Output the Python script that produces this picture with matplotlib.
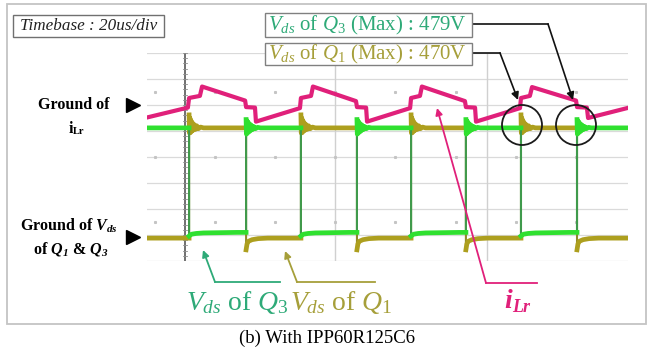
import numpy as np
import matplotlib
matplotlib.use('Agg')
import matplotlib.pyplot as plt
from matplotlib.patches import Rectangle, Circle

plt.rcParams['font.family'] = ['Liberation Serif', 'DejaVu Serif']
plt.rcParams['mathtext.fontset'] = 'custom'
plt.rcParams['mathtext.rm'] = 'Liberation Serif'
plt.rcParams['mathtext.it'] = 'Liberation Serif:italic'
plt.rcParams['mathtext.bf'] = 'Liberation Serif:bold'
try:
    plt.rcParams['mathtext.bfit'] = 'Liberation Serif:italic:bold'
except KeyError:
    pass

# ---------------- data (time in us, amplitude in scope divisions) ----------------
q1_turn_on = [17.5, 64.0, 109.8, 155.5]   # Vds of Q1 rises, Vds of Q3 falls
q3_turn_on = [41.2, 87.3, 132.6, 178.8]   # Vds of Q3 rises, Vds of Q1 falls
vds_high = 5.12
vds_q1_low = 0.88
vds_q3_low = 1.0

ring_dt = [0.0, 0.15, 0.35, 0.55, 0.8, 1.05, 1.35, 1.7, 2.1, 2.6, 3.2, 3.9, 4.8, 6.0]
ring_q1_dy = [0.5, -0.2, 0.38, -0.18, 0.28, -0.13, 0.2, -0.09, 0.13, -0.06, 0.08, -0.03, 0.03, 0.0]
ring_q3_dy = [0.32, -0.24, 0.28, -0.2, 0.22, -0.16, 0.16, -0.12, 0.11, -0.07, 0.05, -0.03, 0.02, 0.0]
q1_fall_dt = [0.0, 0.4, 1.0, 2.5, 5.0, 9.0]
q1_fall_dy = [-0.45, -0.22, -0.12, -0.06, -0.02, 0.0]
q3_fall_dt = [0.0, 1.0, 3.0, 6.0, 20.0]
q3_fall_dy = [-0.04, 0.03, 0.06, 0.08, 0.10]

ilr_t = [0.0, 17.0, 17.5, 22.0, 22.9, 40.8, 41.2, 44.9, 45.3, 63.6,
         64.0, 68.2, 69.0, 86.9, 87.3, 91.1, 91.5, 109.4,
         109.8, 113.5, 114.3, 132.2, 132.6, 136.4, 136.8, 155.1,
         155.5, 159.2, 160.1, 178.4, 178.8, 182.9, 183.4, 199.6]
ilr_y = [5.52, 5.90, 6.27, 6.35, 6.71, 6.17, 5.92, 5.90, 5.36, 5.88,
         6.27, 6.35, 6.71, 6.15, 5.92, 5.90, 5.36, 5.88,
         6.27, 6.35, 6.71, 6.15, 5.92, 5.90, 5.36, 5.88,
         6.27, 6.35, 6.69, 6.17, 5.92, 5.90, 5.50, 5.88]


def build(rise_times, fall_times, low, high, rise_dt, rise_dy, fall_dt, fall_dy, start_high, t_end=200.0):
    events = sorted([(t, 'r') for t in rise_times] + [(t, 'f') for t in fall_times])
    ts, ys = [0.0], [high if start_high else low]
    for t, kind in events:
        ts.append(t); ys.append(ys[-1])
        if kind == 'r':
            level, dts, dys = high, rise_dt, rise_dy
        else:
            level, dts, dys = low, fall_dt, fall_dy
        for a, b in zip(dts, dys):
            ts.append(t + a); ys.append(level + b)
    ts.append(t_end); ys.append(ys[-1])
    return np.array(ts), np.array(ys)


def split_steep(t, y, thr=1.0):
    tt, yy = [t[0]], [y[0]]
    for i in range(1, len(t)):
        if abs(y[i] - y[i - 1]) > thr:
            tt.append(np.nan); yy.append(np.nan)
        tt.append(t[i]); yy.append(y[i])
    return np.array(tt), np.array(yy)


q1_t, q1_y = build(q1_turn_on, q3_turn_on, vds_q1_low, vds_high, ring_dt, ring_q1_dy,
                   q1_fall_dt, q1_fall_dy, start_high=False)
q3_t, q3_y = build(q3_turn_on, q1_turn_on, vds_q3_low, vds_high, ring_dt, ring_q3_dy,
                   q3_fall_dt, q3_fall_dy, start_high=True)

OLIVE = '#ad9f1e'
OLIVE_D = '#8f8a2a'
GREEN = '#2fe02f'
GREEN_D = '#3f9a4c'
PINK = '#e0207a'
TXT_GREEN = '#2eaa78'
TXT_OLIVE = '#a69f3a'

W, H = 655, 352
fig = plt.figure(figsize=(W / 100, H / 100), dpi=100)

# scope screen axes (pixel box 147..628 x 53..261)
sc = fig.add_axes([147 / W, 1 - 261 / H, 481 / W, 208 / H])
sc.set_xlim(0, 200)
sc.set_ylim(0, 8)
sc.axis('off')
for yv in range(9):
    sc.plot([0, 200], [yv, yv], color='#dadada', lw=0.9, zorder=0)
for xv in [78.2, 141.4]:
    sc.plot([xv, xv], [-0.3, 8], color='#d0d0d0', lw=1.0, zorder=0)
sc.plot([15.8, 15.8], [-0.3, 8], color='#707070', lw=1.4, zorder=0)
for yv in np.arange(0, 8.01, 0.2):
    sc.plot([15.0, 16.6], [yv, yv], color='#909090', lw=0.6, zorder=0)
dot_t = np.arange(3.3, 200, 25.0)
for yv in [1.5, 4.0, 6.5]:
    sc.plot(dot_t, np.full(len(dot_t), yv), ls='none', marker='s', ms=1.2,
            color='#c4c4c4', zorder=0)

# traces
sc.plot(q1_t, q1_y, color=OLIVE_D, lw=1.5, zorder=2, solid_joinstyle='miter')
t2, y2 = split_steep(q1_t, q1_y)
sc.plot(t2, y2, color=OLIVE, lw=3.4, zorder=3)
sc.plot(q3_t, q3_y, color=GREEN_D, lw=1.5, zorder=4)
t3, y3 = split_steep(q3_t, q3_y)
sc.plot(t3, y3, color=GREEN, lw=3.4, zorder=5)
sc.plot(ilr_t, ilr_y, color=PINK, lw=3.0, zorder=6)

# overlay axes in pixel coordinates
ov = fig.add_axes([0, 0, 1, 1], facecolor='none')
ov.set_xlim(0, W)
ov.set_ylim(H, 0)
ov.axis('off')

ov.add_patch(Rectangle((7, 4), 639, 320, fill=False, ec='#c4c4c4', lw=1.3))

# timebase box
ov.add_patch(Rectangle((13, 15), 151, 22, fill=False, ec='#707070', lw=1.0))
ov.text(88.5, 26.5, 'Timebase : 20us/div', ha='center', va='center', style='italic',
        fontsize=12.3, color='#222222')

# max boxes
ov.add_patch(Rectangle((265, 13), 207, 24, fc='white', ec='#808080', lw=1.0, zorder=5))
ov.text(268, 25.5, r'$V_{ds}$ of $Q_{\mathit{3}}$ (Max) : 479V', ha='left', va='center',
        fontsize=15, color=TXT_GREEN, zorder=6)
ov.add_patch(Rectangle((265, 43), 207, 22, fc='white', ec='#808080', lw=1.0, zorder=5))
ov.text(268, 54.5, r'$V_{ds}$ of $Q_{\mathit{1}}$ (Max) : 470V', ha='left', va='center',
        fontsize=15, color=TXT_OLIVE, zorder=6)

ap = dict(arrowstyle='-|>', color='#111111', lw=1.2, mutation_scale=11, shrinkA=0, shrinkB=0)
ov.plot([472, 548], [24, 24], color='#111111', lw=1.2)
ov.annotate('', xy=(573, 100), xytext=(548, 24), arrowprops=ap)
ov.plot([472, 500], [53, 53], color='#111111', lw=1.2)
ov.annotate('', xy=(518, 100), xytext=(500, 53), arrowprops=ap)
ov.add_patch(Circle((522, 125), 20, fill=False, ec='#1a1a1a', lw=1.3))
ov.add_patch(Circle((576, 125), 20, fill=False, ec='#1a1a1a', lw=1.3))

# left labels
ov.text(74, 105, 'Ground of', ha='center', va='center', fontsize=11.5, fontweight='bold')
ov.text(73, 129, 'i', ha='right', va='center', fontsize=11.5, fontweight='bold')
ov.text(73, 132, 'Lr', ha='left', va='center', fontsize=7.5, fontweight='bold')
ov.plot([133], [105], marker='>', ms=10, color='black')
ov.text(69, 226, r'Ground of $\mathbfit{V_{ds}}$', ha='center', va='center', fontsize=11.5,
        fontweight='bold')
ov.text(71, 249, r'of $\mathbfit{Q_{1}}$ & $\mathbfit{Q_{3}}$', ha='center', va='center',
        fontsize=11.5, fontweight='bold')
ov.plot([133], [237], marker='>', ms=10, color='black')

# bottom callouts
apg = dict(arrowstyle='-|>', color=TXT_GREEN, lw=1.3, mutation_scale=10, shrinkA=0, shrinkB=0)
ov.plot([280, 215], [282, 282], color=TXT_GREEN, lw=1.3)
ov.annotate('', xy=(203, 250), xytext=(215, 282), arrowprops=apg)
apo = dict(arrowstyle='-|>', color=TXT_OLIVE, lw=1.3, mutation_scale=10, shrinkA=0, shrinkB=0)
ov.plot([375, 297], [282, 282], color=TXT_OLIVE, lw=1.3)
ov.annotate('', xy=(285, 251), xytext=(297, 282), arrowprops=apo)
app = dict(arrowstyle='-|>', color=PINK, lw=1.3, mutation_scale=10, shrinkA=0, shrinkB=0)
ov.plot([537, 486], [283, 283], color=PINK, lw=1.3)
ov.annotate('', xy=(437, 108), xytext=(486, 283), arrowprops=app)

ov.text(237, 302, r'$V_{ds}$ of $Q_{\mathit{3}}$', ha='center', va='center', fontsize=20,
        color=TXT_GREEN)
ov.text(341, 302, r'$V_{ds}$ of $Q_{\mathit{1}}$', ha='center', va='center', fontsize=20,
        color=TXT_OLIVE)
ov.text(512, 302, 'i', ha='right', va='center', fontsize=20, fontweight='bold', style='italic',
        color=PINK)
ov.text(512, 307, 'Lr', ha='left', va='center', fontsize=13, fontweight='bold', style='italic',
        color=PINK)

ov.text(327, 338, '(b) With IPP60R125C6', ha='center', va='center', fontsize=13.5, color='black')

fig.savefig('out.png', dpi=100)
